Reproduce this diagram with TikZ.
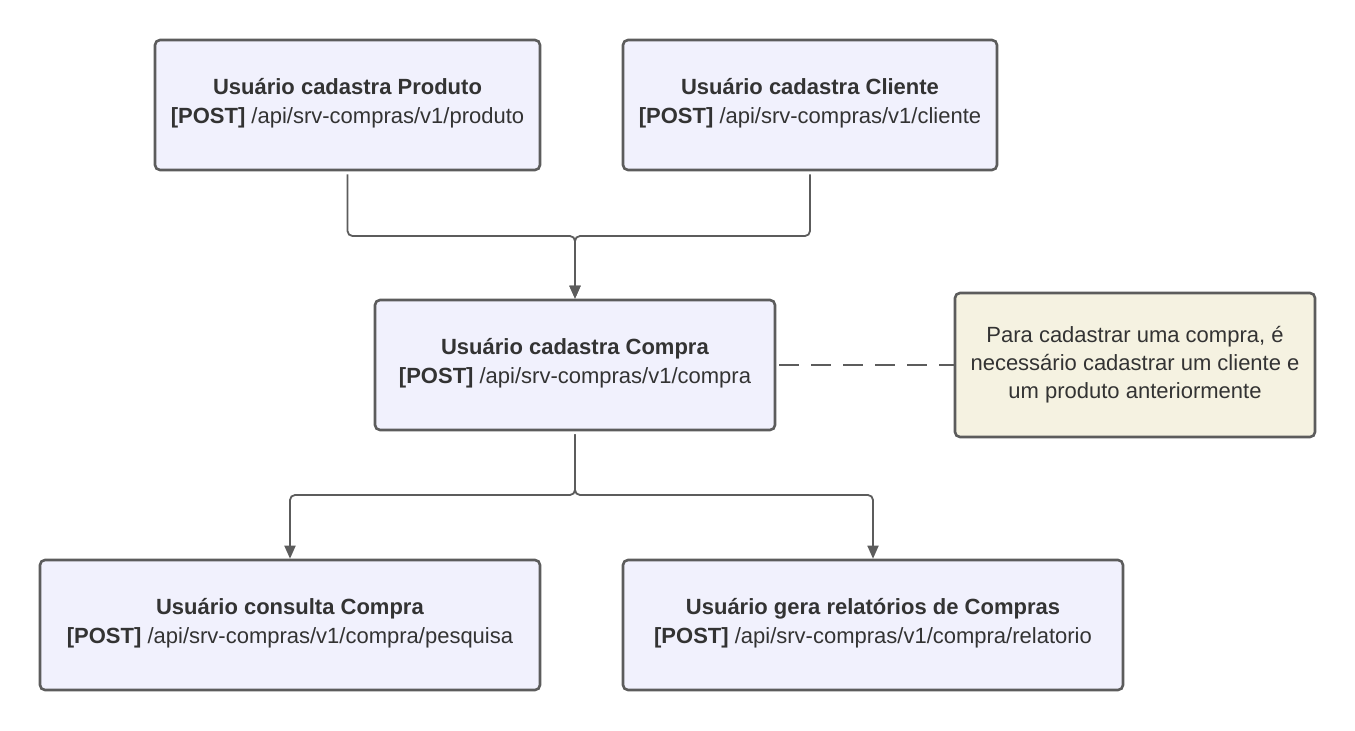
\documentclass[tikz,border=0pt]{standalone}
\usepackage{fontspec}
\setmainfont{Liberation Sans}
\usetikzlibrary{arrows.meta}
\definecolor{boxfill}{HTML}{F1F1FD}
\definecolor{notefill}{HTML}{F5F2E1}
\definecolor{edge}{HTML}{5C5C5C}
\definecolor{txt}{HTML}{333333}
\tikzset{
  box/.style={draw=edge, line width=2.6pt, fill=boxfill, rounded corners=5pt,
    minimum height=130pt, inner sep=0pt, align=center, text=txt,
    font=\fontsize{22}{29}\selectfont},
  notebox/.style={box, fill=notefill, minimum width=360pt, minimum height=144pt,
    font=\fontsize{22}{28}\selectfont},
  conn/.style={draw=edge, line width=1.8pt, rounded corners=5pt,
    -{Triangle[length=13pt,width=11pt]}},
  dashconn/.style={draw=edge, line width=1.8pt, dash pattern=on 20pt off 12pt}
}
\begin{document}
\begin{tikzpicture}[x=1pt,y=-1pt]
\useasboundingbox (0,0) rectangle (1355,731);
\node[box, minimum width=385pt] (prod) at (347.5,105)
  {\textbf{Usuário cadastra Produto}\\\textbf{[POST]} /api/srv-compras/v1/produto\\[-20pt]};
\node[box, minimum width=374pt] (cli) at (810,105)
  {\textbf{Usuário cadastra Cliente}\\\textbf{[POST]} /api/srv-compras/v1/cliente\\[-20pt]};
\node[box, minimum width=400pt] (compra) at (575,365)
  {\textbf{Usuário cadastra Compra}\\\textbf{[POST]} /api/srv-compras/v1/compra\\[-20pt]};
\node[notebox] (note) at (1135,365)
  {Para cadastrar uma compra, é\\necessário cadastrar um cliente e\\um produto anteriormente};
\node[box, minimum width=500pt] (cons) at (290,625)
  {\textbf{Usuário consulta Compra}\\\textbf{[POST]} /api/srv-compras/v1/compra/pesquisa\\[-20pt]};
\node[box, minimum width=500pt] (rel) at (873,625)
  {\textbf{Usuário gera relatórios de Compras}\\\textbf{[POST]} /api/srv-compras/v1/compra/relatorio\\[-20pt]};
\coordinate (j1) at (575,236);
\coordinate (j2) at (575,495);
\draw[conn] ([yshift=-3pt]prod.south) |- (j1) -- (compra.north);
\draw[conn] ([yshift=-3pt]cli.south) |- (j1) -- (compra.north);
\draw[conn] ([yshift=-3pt]compra.south) -- (j2) -| (cons.north);
\draw[conn] ([yshift=-3pt]compra.south) -- (j2) -| (rel.north);
\draw[dashconn] ([xshift=3pt]compra.east) -- (note.west);
\end{tikzpicture}
\end{document}
